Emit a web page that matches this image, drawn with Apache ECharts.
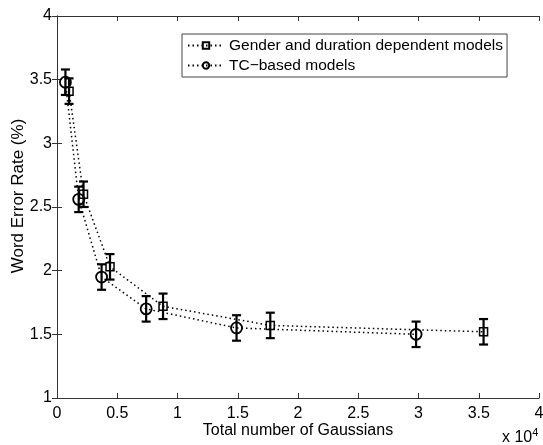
<!DOCTYPE html>
<html>
<head>
<meta charset="utf-8">
<script src="https://cdn.jsdelivr.net/npm/echarts@6/dist/echarts.min.js"></script>
<style>
  html, body { margin: 0; padding: 0; background: #fff; }
  #chart { width: 543px; height: 445px; }
</style>
</head>
<body>
<div id="chart"></div>
<script>
// --- data (x in units of 10^4 Gaussians) ---
const gaussiansGD = [0.10, 0.22, 0.44, 0.88, 1.77, 3.54];
const werGD = [3.41, 2.60, 2.03, 1.72, 1.57, 1.52];
const errGD = [0.10, 0.10, 0.10, 0.10, 0.10, 0.10];

const gaussiansTC = [0.07, 0.18, 0.37, 0.74, 1.49, 2.98];
const werTC = [3.48, 2.56, 1.95, 1.70, 1.55, 1.50];
const errTC = [0.10, 0.10, 0.10, 0.10, 0.10, 0.10];

const nameGD = 'Gender and duration dependent models';
const nameTC = 'TC\u2212based models';

const FONT = 'Liberation Sans, Arial, Helvetica, sans-serif';
const AXIS_COLOR = '#333';

const zip = (xs, ys) => xs.map((x, i) => [x, ys[i]]);
const zipErr = (xs, ys, es) => xs.map((x, i) => [x, ys[i], es[i]]);

// vertical error bar with caps
function errorBarItem(params, api) {
  const x = api.value(0);
  const y = api.value(1);
  const e = api.value(2);
  const lo = api.coord([x, y - e]);
  const hi = api.coord([x, y + e]);
  const cap = 4.5;
  const style = { stroke: '#000', lineWidth: 2.2 };
  return {
    type: 'group',
    children: [
      { type: 'line', shape: { x1: lo[0], y1: lo[1], x2: hi[0], y2: hi[1] }, style },
      { type: 'line', shape: { x1: lo[0] - cap, y1: lo[1], x2: lo[0] + cap, y2: lo[1] }, style },
      { type: 'line', shape: { x1: hi[0] - cap, y1: hi[1], x2: hi[0] + cap, y2: hi[1] }, style }
    ]
  };
}

const axisCommon = {
  type: 'value',
  axisLine: { show: true, lineStyle: { color: AXIS_COLOR, width: 1 } },
  axisTick: { show: true, inside: true, length: 5, lineStyle: { color: AXIS_COLOR } },
  splitLine: { show: false }
};

const lineStyle = { color: '#000', width: 1.5, type: [1.5, 3] };

const chart = echarts.init(document.getElementById('chart'));

chart.setOption({
  animation: false,
  backgroundColor: '#fff',
  textStyle: { fontFamily: FONT },
  grid: { left: 57, right: 4, top: 16, bottom: 47, outerBoundsMode: 'none', containLabel: false },
  legend: {
    left: 182,
    top: 34,
    orient: 'vertical',
    data: [nameGD, nameTC],
    backgroundColor: '#fff',
    borderColor: '#444',
    borderWidth: 1,
    borderRadius: 0,
    padding: [2, 4, 2, 5],
    itemGap: 1,
    itemWidth: 36,
    itemHeight: 8,
    textStyle: { fontSize: 15.5, lineHeight: 19, color: '#000', fontFamily: FONT }
  },
  xAxis: [
    Object.assign({}, axisCommon, {
      min: 0, max: 4, interval: 0.5,
      axisLabel: { color: '#000', fontSize: 16, margin: 8, fontFamily: FONT },
      name: 'Total number of Gaussians',
      nameLocation: 'middle',
      nameGap: 25,
      nameMoveOverlap: false,
      nameTextStyle: { color: '#000', fontSize: 16, fontFamily: FONT }
    }),
    Object.assign({}, axisCommon, {
      min: 0, max: 4, interval: 0.5, position: 'top',
      axisLabel: { show: false }
    })
  ],
  yAxis: [
    Object.assign({}, axisCommon, {
      min: 1, max: 4, interval: 0.5,
      axisLabel: { color: '#000', fontSize: 16, margin: 5, fontFamily: FONT },
      name: 'Word Error Rate (%)',
      nameLocation: 'middle',
      nameGap: 30,
      nameMoveOverlap: false,
      nameTextStyle: { color: '#000', fontSize: 17, fontFamily: FONT, padding: [0, 0, 0, 22] }
    }),
    Object.assign({}, axisCommon, {
      min: 1, max: 4, interval: 0.5, position: 'right',
      axisLabel: { show: false }
    })
  ],
  graphic: [
    {
      type: 'text',
      left: 502,
      top: 427,
      style: {
        text: 'x 10{sup|4}',
        fill: '#000',
        font: '16px ' + FONT,
        rich: { sup: { fontSize: 11, verticalAlign: 'top', padding: [0, 0, 10, 0] } }
      }
    }
  ],
  series: [
    {
      name: nameGD,
      type: 'line',
      data: zip(gaussiansGD, werGD),
      symbol: 'rect',
      symbolSize: 8,
      lineStyle: lineStyle,
      itemStyle: { color: 'transparent', borderColor: '#000', borderWidth: 1.5 },
      z: 3
    },
    {
      name: nameTC,
      type: 'line',
      data: zip(gaussiansTC, werTC),
      symbol: 'circle',
      symbolSize: 11,
      lineStyle: lineStyle,
      itemStyle: { color: 'transparent', borderColor: '#000', borderWidth: 1.8 },
      z: 3
    },
    {
      name: 'err-gd',
      type: 'custom',
      renderItem: errorBarItem,
      data: zipErr(gaussiansGD, werGD, errGD),
      z: 4
    },
    {
      name: 'err-tc',
      type: 'custom',
      renderItem: errorBarItem,
      data: zipErr(gaussiansTC, werTC, errTC),
      z: 4
    }
  ]
});
</script>
</body>
</html>
